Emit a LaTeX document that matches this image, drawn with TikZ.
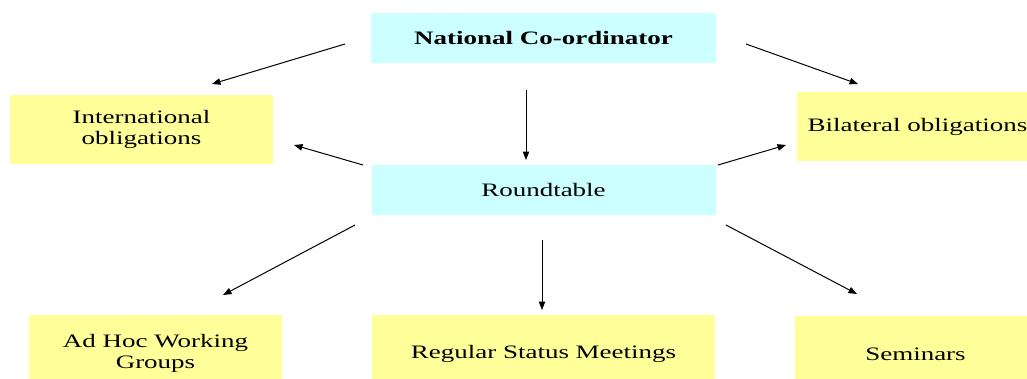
\documentclass[tikz,border=0pt]{standalone}
\usepackage{fontspec}
\setmainfont{Liberation Serif}
\usetikzlibrary{arrows.meta}
\definecolor{boxcyan}{HTML}{CCFFFF}
\definecolor{boxyellow}{HTML}{FFFF99}
\newcommand\wtxt[1]{\scalebox{1.42}[1]{#1}}
\tikzset{
  box/.style={rectangle, inner sep=0pt, align=center,
    font=\fontsize{19}{21.5}\selectfont},
  cyanbox/.style={box, fill=boxcyan},
  yellowbox/.style={box, fill=boxyellow},
  conn/.style={line width=1pt, -{Triangle[length=8.5pt,width=6.5pt]}}
}
\begin{document}
\begin{tikzpicture}[x=1pt,y=-1pt]
\useasboundingbox (0,0) rectangle (1027,378);
\clip (0,0) rectangle (1027,378);
\node[cyanbox, minimum width=345pt, minimum height=50pt] (nc) at (543.5,38) {\textbf{\wtxt{National Co-ordinator}}};
\node[cyanbox, minimum width=344pt, minimum height=50pt] (rt) at (543.5,190) {\wtxt{Roundtable}};
\node[yellowbox, minimum width=263pt, minimum height=69pt] (io) at (141.5,129.5) {\wtxt{International}\\\wtxt{obligations}};
\node[yellowbox, minimum width=241pt, minimum height=69pt] (bo) at (917.5,126.5) {\wtxt{Bilateral obligations}};
\node[yellowbox, minimum width=253pt, minimum height=77pt] (ah) at (155.5,353.5) {\wtxt{Ad Hoc Working}\\\wtxt{Groups}};
\node[yellowbox, minimum width=343pt, minimum height=77pt] (rs) at (543.5,353.5) {\wtxt{Regular Status Meetings}};
\node[yellowbox, minimum width=241pt, minimum height=76pt] (se) at (915.5,354) {\wtxt{Seminars}};
% connector ends
\coordinate (a1s) at (345,44);  \coordinate (a1e) at (212,84);
\coordinate (a2s) at (746,44);  \coordinate (a2e) at (858,84);
\coordinate (a3s) at (526,90);  \coordinate (a3e) at (526,160);
\coordinate (a4s) at (363,165); \coordinate (a4e) at (294,145);
\coordinate (a5s) at (718,165); \coordinate (a5e) at (786,145);
\coordinate (a6s) at (355,225); \coordinate (a6e) at (223,295);
\coordinate (a7s) at (542,240); \coordinate (a7e) at (542,310);
\coordinate (a8s) at (726,225); \coordinate (a8e) at (857,294);
\draw[conn] (a1s) -- (a1e);
\draw[conn] (a2s) -- (a2e);
\draw[conn] (a3s) -- (a3e);
\draw[conn] (a4s) -- (a4e);
\draw[conn] (a5s) -- (a5e);
\draw[conn] (a6s) -- (a6e);
\draw[conn] (a7s) -- (a7e);
\draw[conn] (a8s) -- (a8e);
\end{tikzpicture}
\end{document}
